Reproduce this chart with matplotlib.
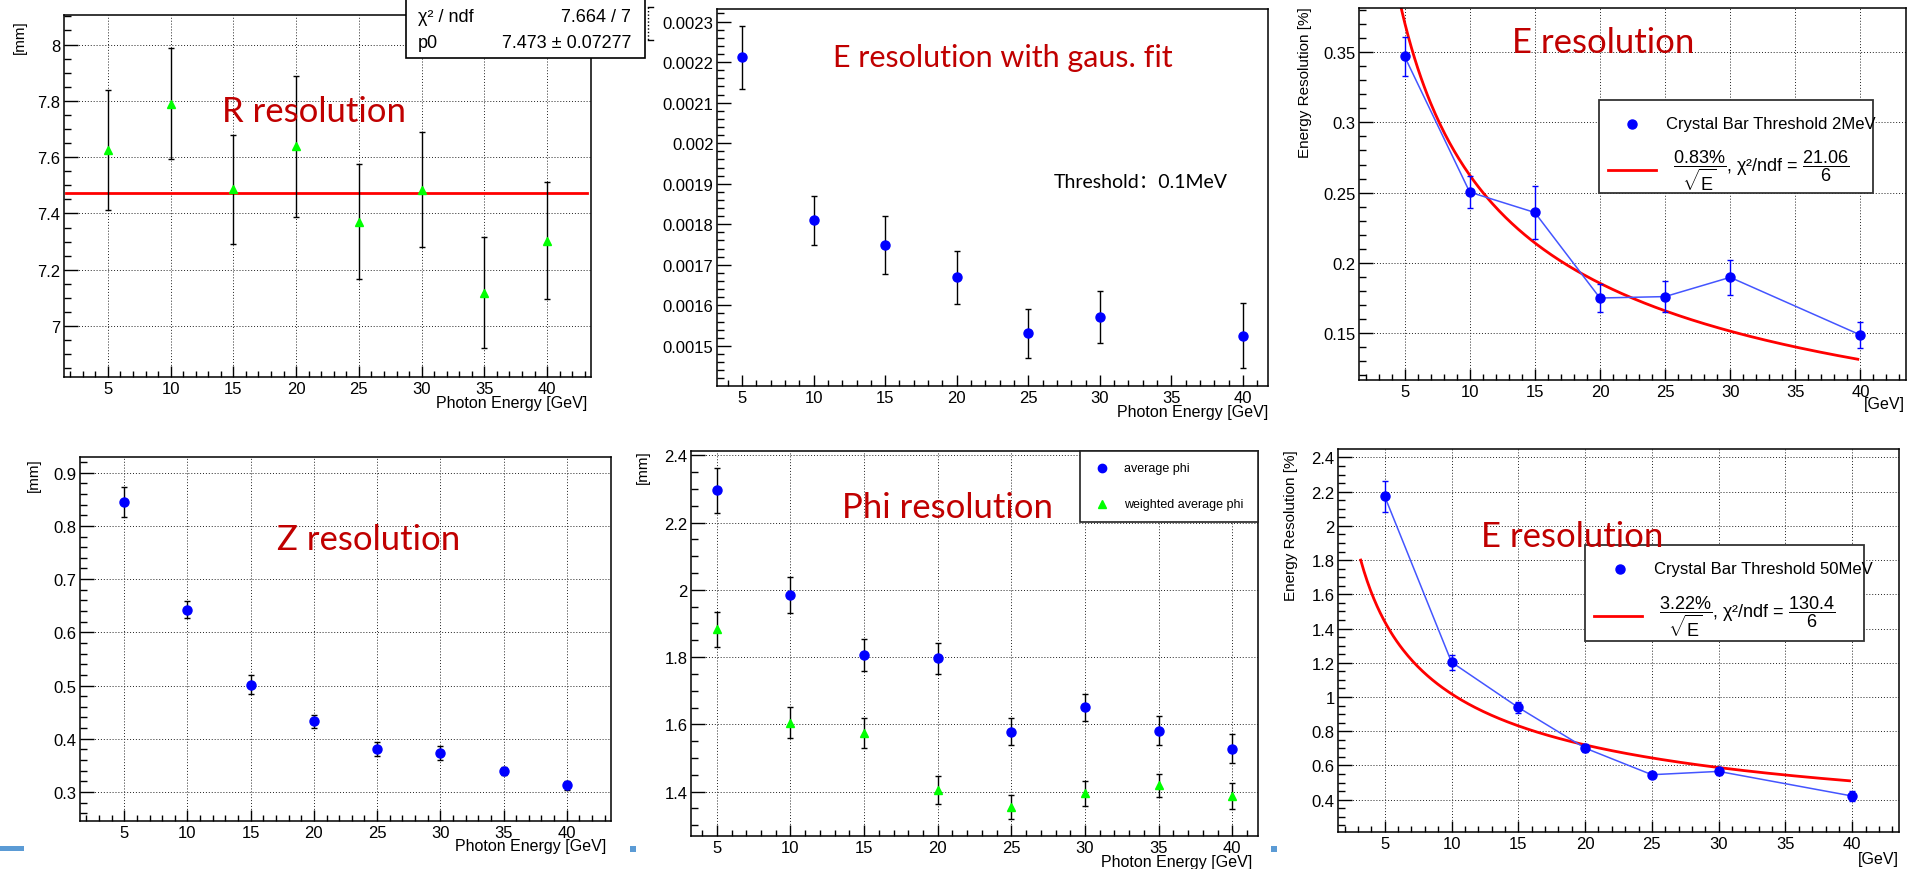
import numpy as np
import matplotlib.pyplot as plt
from matplotlib.ticker import MultipleLocator, FuncFormatter
from matplotlib.patches import Rectangle

plt.rcParams['font.family'] = ['Liberation Sans', 'Noto Sans CJK SC', 'DejaVu Sans']
plt.rcParams['mathtext.fontset'] = 'custom'
plt.rcParams['mathtext.rm'] = 'Liberation Sans'
plt.rcParams['mathtext.it'] = 'Liberation Sans:italic'
plt.rcParams['mathtext.bf'] = 'Liberation Sans:bold'

W, H = 1910, 870
DARKRED = '#c00000'
BLUE = '#0000ff'
GREEN = '#00ff00'
SLIDE_BLUE = '#5b9bd5'

# photon energies [GeV]
energy = [5, 10, 15, 20, 25, 30, 35, 40]
energy_7 = [5, 10, 15, 20, 25, 30, 40]

# R resolution [mm] + constant fit
r_res = [7.626, 7.789, 7.486, 7.638, 7.370, 7.484, 7.119, 7.303]
r_err = [0.213, 0.197, 0.193, 0.249, 0.204, 0.204, 0.198, 0.208]
r_p0, r_p0_err = 7.473, 0.07277
r_chi2, r_ndf = 7.664, 7

# E resolution, gaussian fit, 0.1 MeV threshold
eg_res = [0.002212, 0.001810, 0.001749, 0.001669, 0.001531, 0.001572, 0.001525]
eg_err = [0.000078, 0.000060, 0.000072, 0.000065, 0.000060, 0.000064, 0.000080]

# E resolution [%], crystal bar threshold 2 MeV
e2_res = [0.3469, 0.2504, 0.2359, 0.1751, 0.1761, 0.1898, 0.1488]
e2_err = [0.0137, 0.0112, 0.0188, 0.0100, 0.0110, 0.0123, 0.0094]
e2_stoch, e2_chi2, e2_ndf = 0.83, 21.06, 6

# Z resolution [mm]
z_res = [0.8448, 0.6426, 0.5014, 0.4330, 0.3802, 0.3733, 0.3394, 0.3124]
z_err = [0.028, 0.016, 0.018, 0.012, 0.0135, 0.0125, 0.008, 0.009]

# Phi resolution [mm]
phi_avg = [2.296, 1.985, 1.807, 1.797, 1.578, 1.651, 1.581, 1.527]
phi_avg_err = [0.066, 0.054, 0.047, 0.046, 0.040, 0.040, 0.043, 0.043]
phi_wavg = [1.883, 1.605, 1.575, 1.405, 1.355, 1.395, 1.419, 1.387]
phi_wavg_err = [0.052, 0.047, 0.045, 0.041, 0.035, 0.037, 0.034, 0.039]

# E resolution [%], crystal bar threshold 50 MeV
e50_res = [2.172, 1.2035, 0.939, 0.7016, 0.546, 0.5654, 0.4214]
e50_err = [0.090, 0.043, 0.034, 0.025, 0.015, 0.020, 0.027]
e50_stoch, e50_chi2, e50_ndf = 3.22, 130.4, 6

fit_range = (3.2, 39.8)

fig = plt.figure(figsize=(W / 100, H / 100), dpi=100)
fig.patch.set_facecolor('white')


def pad(box, xlim, ylim, ymajor, yminor, grid=True):
    l, t, r, b = box
    ax = fig.add_axes([l / W, 1 - b / H, (r - l) / W, (b - t) / H])
    ax.set_xlim(*xlim)
    ax.set_ylim(*ylim)
    ax.xaxis.set_major_locator(MultipleLocator(5))
    ax.xaxis.set_minor_locator(MultipleLocator(1))
    ax.yaxis.set_major_locator(MultipleLocator(ymajor))
    ax.yaxis.set_minor_locator(MultipleLocator(yminor))
    ax.yaxis.set_major_formatter(FuncFormatter(lambda v, p: f'{v:g}'))
    ax.tick_params(which='both', direction='in', top=False, right=False,
                   labelsize=12, width=1)
    ax.tick_params(axis='x', which='major', length=8, pad=3)
    ax.tick_params(axis='x', which='minor', length=4)
    ax.tick_params(axis='y', which='major', length=10, pad=2.5)
    ax.tick_params(axis='y', which='minor', length=5)
    for s in ax.spines.values():
        s.set_linewidth(1.1)
    if grid:
        ax.grid(True, which='major', ls=(0, (1, 2)), color='#222222', lw=0.7)
    return ax


def points(ax, x, y, err, marker, color, ecolor='black', ms=6.5):
    ax.errorbar(x, y, yerr=err, fmt=marker, color=color, mec=color, ms=ms,
                ecolor=ecolor, elinewidth=1.0, capsize=2.2, capthick=1.0, zorder=3)


# R resolution
ax1 = pad((64, 16, 591, 378), (1.5, 43.5), (6.819, 8.105), 0.2, 0.05)
ax1.axhline(r_p0, xmin=0.004, xmax=0.993, color='red', lw=2, zorder=2)
points(ax1, energy, r_res, r_err, '^', GREEN, ms=6)

# E resolution with gaussian fit
ax2 = pad((717, 10, 1268, 387), (3.25, 41.75), (0.001401, 0.002331), 0.0001, 0.00002, grid=False)
points(ax2, energy_7, eg_res, eg_err, 'o', BLUE)

# E resolution, 2 MeV threshold
e_fit = np.linspace(*fit_range, 300)
ax3 = pad((1359, 9, 1906, 381), (1.5, 43.5), (0.1168, 0.3813), 0.05, 0.01)
ax3.plot(e_fit, e2_stoch / np.sqrt(e_fit), color='red', lw=2, zorder=2)
ax3.plot(energy_7, e2_res, color='#4455ff', lw=1.1, zorder=2)
points(ax3, energy_7, e2_res, e2_err, 'o', BLUE, ecolor=BLUE)

# Z resolution
ax4 = pad((80, 458, 611, 822), (1.5, 43.5), (0.2454, 0.9295), 0.1, 0.02)
points(ax4, energy, z_res, z_err, 'o', BLUE)

# Phi resolution
ax5 = pad((691, 452, 1258, 837), (3.25, 41.75), (1.268, 2.413), 0.2, 0.05)
points(ax5, energy, phi_avg, phi_avg_err, 'o', BLUE)
points(ax5, energy, phi_wavg, phi_wavg_err, '^', GREEN, ms=6)

# E resolution, 50 MeV threshold
ax6 = pad((1338, 450, 1899, 833), (1.5, 43.5), (0.2113, 2.449), 0.2, 0.05)
ax6.plot(e_fit, e50_stoch / np.sqrt(e_fit), color='red', lw=2, zorder=2)
ax6.plot(energy_7, e50_res, color='#4455ff', lw=1.1, zorder=2)
points(ax6, energy_7, e50_res, e50_err, 'o', BLUE, ecolor=BLUE)

# annotations drawn in pixel space on top of everything
ov = fig.add_axes([0, 0, 1, 1], zorder=10)
ov.set_xlim(0, W)
ov.set_ylim(H, 0)
ov.axis('off')

title_kw = dict(color=DARKRED, family='Lato', ha='center', va='center', zorder=5)
ov.text(314, 112, 'R resolution', fontsize=25, **title_kw)
ov.text(1003, 58, 'E resolution with gaus. fit', fontsize=22, **title_kw)
ov.text(1603, 43, 'E resolution', fontsize=25, **title_kw)
ov.text(369, 540, 'Z resolution', fontsize=25, **title_kw)
ov.text(947, 508, 'Phi resolution', fontsize=25, **title_kw)
ov.text(1572, 537, 'E resolution', fontsize=25, **title_kw)

ov.text(1054, 183, 'Threshold：0.1MeV', fontsize=14, family=['Lato', 'Noto Sans CJK SC'],
        ha='left', va='center')

ylab_kw = dict(rotation=90, ha='center', va='top', fontsize=11)
ov.text(20, 20, '[mm]', **ylab_kw)
ov.text(1305, 7, 'Energy Resolution [%]', **ylab_kw)
ov.text(34, 458, '[mm]', **ylab_kw)
ov.text(643, 450, '[mm]', **ylab_kw)
ov.text(1291, 450, 'Energy Resolution [%]', **ylab_kw)

xlab_kw = dict(ha='right', va='center', fontsize=11.5)
ov.text(587, 404, 'Photon Energy [GeV]', **xlab_kw)
ov.text(1268, 413, 'Photon Energy [GeV]', **xlab_kw)
ov.text(1905, 405, '[GeV]', **xlab_kw)
ov.text(606, 847, 'Photon Energy [GeV]', **xlab_kw)
ov.text(1252, 863, 'Photon Energy [GeV]', **xlab_kw)
ov.text(1899, 860, '[GeV]', **xlab_kw)

# fit statistics box
ov.add_patch(Rectangle((406, -2), 239, 61, facecolor='white', edgecolor='black', lw=1.2))
ov.text(418, 17, 'χ² / ndf', fontsize=13, va='center')
ov.text(631, 17, f'{r_chi2:g} / {r_ndf}', fontsize=13, va='center', ha='right')
ov.text(418, 43, 'p0', fontsize=13, va='center')
ov.text(631, 43, f'{r_p0:g} ± {r_p0_err:g}', fontsize=13, va='center', ha='right')

# clipped axis title at the left edge of the second pad
ov.plot([648, 648], [8, 41], color='black', lw=1, ls=(0, (1, 1.5)))
ov.plot([648, 653], [8, 8], color='black', lw=1)
ov.plot([648, 653], [41, 41], color='black', lw=1)

# legend: phi
ov.add_patch(Rectangle((1080, 452), 178, 71, facecolor='white', edgecolor='#222222', lw=1.2))
ov.plot([1102], [469], 'o', color=BLUE, ms=6)
ov.text(1124, 469, 'average phi', fontsize=9, va='center')
ov.plot([1102], [505], '^', color=GREEN, ms=5.5)
ov.text(1124, 505, 'weighted average phi', fontsize=9, va='center')


def fit_legend(x0, y0, x1, y1, dot_x, dot_y, label, line_x, line_y, stoch, chi2, ndf):
    ov.add_patch(Rectangle((x0, y0), x1 - x0, y1 - y0, facecolor='white',
                           edgecolor='#333333', lw=1.3, zorder=1))
    ov.plot([dot_x], [dot_y], 'o', color=BLUE, ms=6.5, zorder=2)
    ov.text(dot_x + 34, dot_y, label, fontsize=12, va='center', zorder=2)
    ov.plot(line_x, [line_y, line_y], color='red', lw=2, zorder=2)
    ov.text(line_x[1] + 17, line_y,
            r'$\dfrac{%g\%%}{\sqrt{\mathrm{E}}}$, χ²/ndf = $\dfrac{%g}{%d}$' % (stoch, chi2, ndf),
            fontsize=13, va='center', zorder=2)


fit_legend(1599, 101, 1873, 194, 1632, 125, 'Crystal Bar Threshold 2MeV',
           [1608, 1656], 171, e2_stoch, e2_chi2, e2_ndf)
fit_legend(1585, 546, 1864, 642, 1620, 570, 'Crystal Bar Threshold 50MeV',
           [1594, 1642], 617, e50_stoch, e50_chi2, e50_ndf)

# slide footer marks
ov.add_patch(Rectangle((0, 847), 24, 5, color=SLIDE_BLUE, lw=0))
ov.add_patch(Rectangle((630, 847), 6, 6, color=SLIDE_BLUE, lw=0))
ov.add_patch(Rectangle((1271, 847), 6, 6, color=SLIDE_BLUE, lw=0))

fig.savefig('out.png', dpi=100, facecolor='white')
